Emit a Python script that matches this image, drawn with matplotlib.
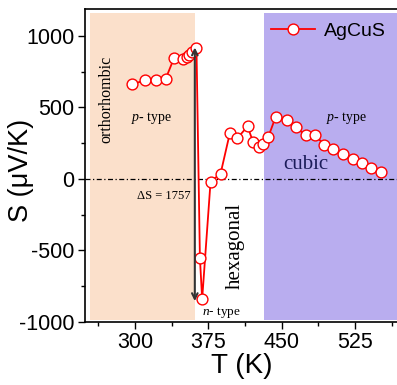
import matplotlib
matplotlib.use("Agg")
import matplotlib.pyplot as plt
from matplotlib.lines import Line2D

plt.rcParams["axes.unicode_minus"] = False
plt.rcParams["mathtext.fontset"] = "custom"
plt.rcParams["mathtext.rm"] = "Liberation Serif"
plt.rcParams["mathtext.it"] = "Liberation Serif:italic"

# Seebeck coefficient of AgCuS versus temperature
temperature = [297, 310, 321.5, 331.5, 340, 349.5, 353, 355.5, 358.5, 363,
               366.5, 368.8, 377.4, 387.6, 397.1, 404.6, 415.2, 421, 427.1,
               431.2, 436.3, 444, 455.1, 464.6, 474.5, 484, 493.6, 502.8,
               513, 522.6, 531.8, 541.3, 551.2]
seebeck = [660, 688, 694, 699, 843, 838, 852, 868, 888, 916,
           -551, -841, -19, 35, 319, 283, 366, 255, 220,
           243, 290, 435, 412, 359, 306, 306, 238, 208,
           171, 139, 111, 79, 51]

x_ticks = [300, 375, 450, 525]
y_ticks = [-1000, -500, 0, 500, 1000]

# phase regions (temperature bounds)
ortho_range = (254, 361.3)
cubic_range = (432.2, 575)
s_max, s_min = 916, -841
delta_s = s_max - s_min

sans = ["Liberation Sans", "DejaVu Sans"]
serif = ["Liberation Serif", "DejaVu Serif"]

fig = plt.figure(figsize=(3.97, 3.85), dpi=100)
ax = fig.add_axes([0.214, 0.164, 0.791, 0.813])
ax.set_xlim(249, 570)
ax.set_ylim(-1000, 1188)

yfrac = lambda v: (v + 1000) / 2188
ax.axvspan(*ortho_range, ymin=yfrac(-984), ymax=yfrac(1160),
           color="#fbe0cb", lw=0, zorder=0)
ax.axvspan(*cubic_range, ymin=yfrac(-984), ymax=yfrac(1160),
           color="#b9adef", lw=0, zorder=0)

ax.axhline(0, color="black", lw=0.9, ls=(0, (4, 2, 1, 2)), zorder=1)

ax.plot(temperature, seebeck, color="red", lw=1.3, marker="o", ms=7.8,
        mfc="white", mec="red", mew=1.0, zorder=3, label="AgCuS")

ax.annotate("", xy=(361.3, s_min - 14), xytext=(361.3, s_max + 2),
            arrowprops=dict(arrowstyle="<->", color="#333333", lw=1.5,
                            shrinkA=0, shrinkB=0, mutation_scale=10),
            zorder=4)

ax.text(271.4, 554, "orthorhombic", rotation=90, ha="center", va="center",
        fontsize=11.5, family=serif)
ax.text(317, 428, r"$\it{p}$- type", ha="center", va="center",
        fontsize=10, family=serif)
ax.text(516.5, 428, r"$\it{p}$- type", ha="center", va="center",
        fontsize=10, family=serif)
ax.text(474.5, 101, "cubic", ha="center", va="center", fontsize=15,
        family=serif, color="#1c1c5a")
ax.text(357, -120, f"ΔS = {delta_s}", ha="right", va="center",
        fontsize=9, family=serif)
ax.text(402.2, -468, "hexagonal", rotation=90, ha="center", va="center",
        fontsize=15, family=serif)
ax.text(388.6, -937, r"$\it{n}$- type", ha="center", va="center",
        fontsize=9.5, family=serif)

ax.set_xticks(x_ticks)
ax.set_xticks([t + 37.5 for t in [225] + x_ticks], minor=True)
ax.set_yticks(y_ticks)
ax.set_yticks([v + 250 for v in y_ticks[:-1]], minor=True)
ax.tick_params(which="major", direction="out", length=5, width=1,
               labelsize=15.5, pad=2.5)
ax.tick_params(which="minor", direction="out", length=3, width=1)
for lab in ax.get_xticklabels() + ax.get_yticklabels():
    lab.set_family(sans)
for sp in ax.spines.values():
    sp.set_linewidth(1.2)

ax.set_xlabel("T (K)", fontsize=20, family=sans, labelpad=0)
ax.set_ylabel("S (μV/K)", fontsize=19.5, family=sans)
ax.yaxis.set_label_coords(-0.163, 0.485)

handle = Line2D([], [], color="red", lw=1.3, marker="o", ms=7.8,
                mfc="white", mec="red", mew=1.0)
ax.legend([handle], ["AgCuS"], loc="upper right", frameon=False,
          prop=dict(family=sans, size=14), handlelength=2.25,
          handletextpad=0.45, bbox_to_anchor=(1.0, 1.0),
          borderaxespad=0.3)

fig.savefig("out.png", dpi=100)
